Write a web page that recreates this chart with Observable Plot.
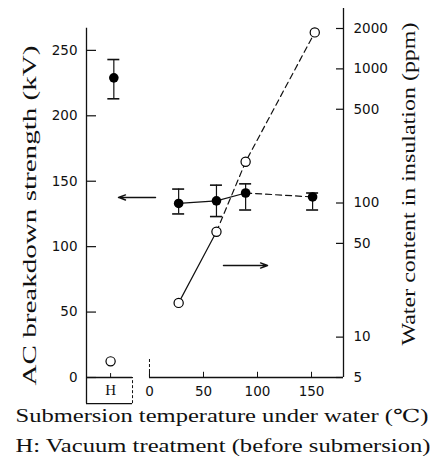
<!DOCTYPE html>
<html><head><meta charset="utf-8">
<script src="https://cdn.jsdelivr.net/npm/d3@7"></script>
<script src="https://cdn.jsdelivr.net/npm/@observablehq/plot@0.6"></script>
<style>body{margin:0;background:#fff}</style>
</head><body><div id="chart"></div>
<script>
// ---------- data ----------
const hX = -35;                       // position of the "H" (vacuum treatment) column, x units
const bdTemps = [27, 62, 89, 151];    // °C
const bdValues = [133, 135, 141, 138];// kV
const bdLow = [125, 123, 128, 128];
const bdHigh = [144, 147, 148, 141];
const bdH = [229];  const bdHLow = [213]; const bdHHigh = [243];
const wTemps = [27, 62, 89, 153];     // °C
const wValues = [18, 61, 203, 1870];  // ppm
const wH = [6.6];                     // ppm
const leftTicks = [0, 50, 100, 150, 200, 250];
const rightTicks = [5, 10, 50, 100, 500, 1000, 2000];
const xTicks = [0, 50, 100, 150];
const leftTitle = "AC breakdown strength (kV)";
const rightTitle = "Water content in insulation (ppm)";
const caption1 = "Submersion temperature under water (\u2103)";
const caption2 = "H: Vacuum treatment (before submersion)";
const hLabel = "H";

// ---------- scale helpers ----------
const X_MIN = -58.3, X_MAX = 179.6, X_SEP = -15.7;
const Y_MAX = 282, Y_AXIS_TOP = 267;
const DEC = 102.5;                      // left units per decade of the right (log) axis
const toLeft = v => DEC * Math.log10(v / 5);
const fromLeft = d => String(Math.round(5 * 10 ** (d / DEC)));

const bd = bdTemps.map((t, i) => ({t, v: bdValues[i], lo: bdLow[i], hi: bdHigh[i]}));
const bdHp = bdH.map((v, i) => ({t: hX + 2, v, lo: bdHLow[i], hi: bdHHigh[i]}));
const allBd = bd.concat(bdHp);
const w = wTemps.map((t, i) => ({t, v: toLeft(wValues[i])}));
const wHp = wH.map(v => ({t: hX - 1, v: toLeft(v)}));
const arrows = [
  {x1: 5.6, x2: -28.7, y1: 137.6, y2: 137.6},
  {x1: 68.5, x2: 109.3, y1: 85.6, y2: 85.6}
];

const serif = "Liberation Serif, DejaVu Serif, serif";
const sw = 1.2;

const chart = Plot.plot({
  width: 445, height: 471,
  marginLeft: 86, marginRight: 102, marginTop: 8, marginBottom: 94,
  x: {domain: [X_MIN, X_MAX], axis: null},
  y: {domain: [0, Y_MAX], axis: null},
  style: {fontFamily: "DejaVu Sans, sans-serif", fontSize: "13.5px", color: "#111", background: "#fff"},
  marks: [
    // frame lines
    Plot.ruleX([X_MIN], {y1: -20, y2: Y_AXIS_TOP, strokeWidth: 1.3}),
    Plot.ruleX([X_MAX], {y1: 0, y2: Y_MAX, strokeWidth: 1.3}),
    Plot.ruleY([0], {x1: 0, x2: X_MAX, strokeWidth: 1.3}),
    Plot.ruleY([0], {x1: X_MIN, x2: X_SEP, strokeWidth: 1.3}),
    Plot.ruleY([-20], {x1: X_MIN, x2: X_SEP, strokeWidth: 1.1}),
    Plot.ruleX([X_SEP], {y1: -20, y2: 0, strokeWidth: 1, strokeDasharray: "3,2"}),
    Plot.ruleX([0], {y1: 0, y2: 15, strokeWidth: 1, strokeDasharray: "3,2"}),
    Plot.text([hLabel], {x: hX - 1, y: -10, fontSize: 15, fontFamily: serif}),
    // ticks
    Plot.ruleY(leftTicks, {x1: X_MIN, x2: X_MIN, insetRight: -10, strokeWidth: 1.2}),
    Plot.ruleY(rightTicks.map(toLeft), {x1: X_MAX, x2: X_MAX, insetLeft: -7, strokeWidth: 1.2}),
    Plot.ruleX(xTicks, {y1: 0, y2: 4, strokeWidth: 1}),
    Plot.ruleX([hX - 1], {y1: 0, y2: 3, strokeWidth: 1}),
    Plot.axisY(leftTicks, {anchor: "left", tickSize: 0, tickPadding: 9}),
    Plot.axisY(rightTicks.map(toLeft), {anchor: "right", tickSize: 0, tickPadding: 10, tickFormat: fromLeft}),
    Plot.axisX(xTicks, {anchor: "bottom", tickSize: 0, tickPadding: 9}),
    // water content lines (open circles)
    Plot.line(w.slice(0, 2), {x: "t", y: "v", strokeWidth: sw}),
    Plot.line(w.slice(1), {x: "t", y: "v", strokeWidth: sw, strokeDasharray: "6,4"}),
    // breakdown lines (filled circles)
    Plot.line(bd.slice(0, 3), {x: "t", y: "v", strokeWidth: sw}),
    Plot.line(bd.slice(2), {x: "t", y: "v", strokeWidth: sw, strokeDasharray: "6,4"}),
    // error bars
    Plot.ruleX(allBd, {x: "t", y1: "lo", y2: "hi", strokeWidth: 1.2}),
    Plot.ruleY(allBd, {y: "lo", x1: "t", x2: "t", insetLeft: -6, insetRight: -6, strokeWidth: 1.6}),
    Plot.ruleY(allBd, {y: "hi", x1: "t", x2: "t", insetLeft: -6, insetRight: -6, strokeWidth: 1.6}),
    // points
    Plot.dot(w.concat(wHp), {x: "t", y: "v", r: 4.6, fill: "white", stroke: "black", strokeWidth: 1.2}),
    Plot.dot(allBd, {x: "t", y: "v", r: 4.8, fill: "black"}),
    // arrows
    Plot.arrow(arrows, {x1: "x1", y1: "y1", x2: "x2", y2: "y2", headLength: 8, headAngle: 40, strokeWidth: 1.4}),
    // titles & captions (start-anchored, then stretched to the reference's length)
    Plot.text([leftTitle], {frameAnchor: "left", rotate: -90, textAnchor: "start", dx: -57, dy: 192.5, fontSize: 19, fontFamily: serif}),
    Plot.text([rightTitle], {frameAnchor: "right", rotate: -90, textAnchor: "start", dx: 66, dy: 152.5, fontSize: 18, fontFamily: serif}),
    Plot.text([caption1], {frameAnchor: "bottom-left", textAnchor: "start", dx: -71, dy: 44, fontSize: 18, fontFamily: serif}),
    Plot.text([caption2], {frameAnchor: "bottom-left", textAnchor: "start", dx: -71, dy: 74, fontSize: 18, fontFamily: serif})
  ]
});
document.getElementById("chart").appendChild(chart);

// stretch the long texts to their lengths in the reference
const lengths = new Map([[leftTitle, 340], [rightTitle, 323], [caption1, 413], [caption2, 415]]);
chart.querySelectorAll("text").forEach(t => {
  const L = lengths.get(t.textContent);
  if (L) { t.setAttribute("textLength", L); t.setAttribute("lengthAdjust", "spacingAndGlyphs"); }
});
</script>
</body></html>
